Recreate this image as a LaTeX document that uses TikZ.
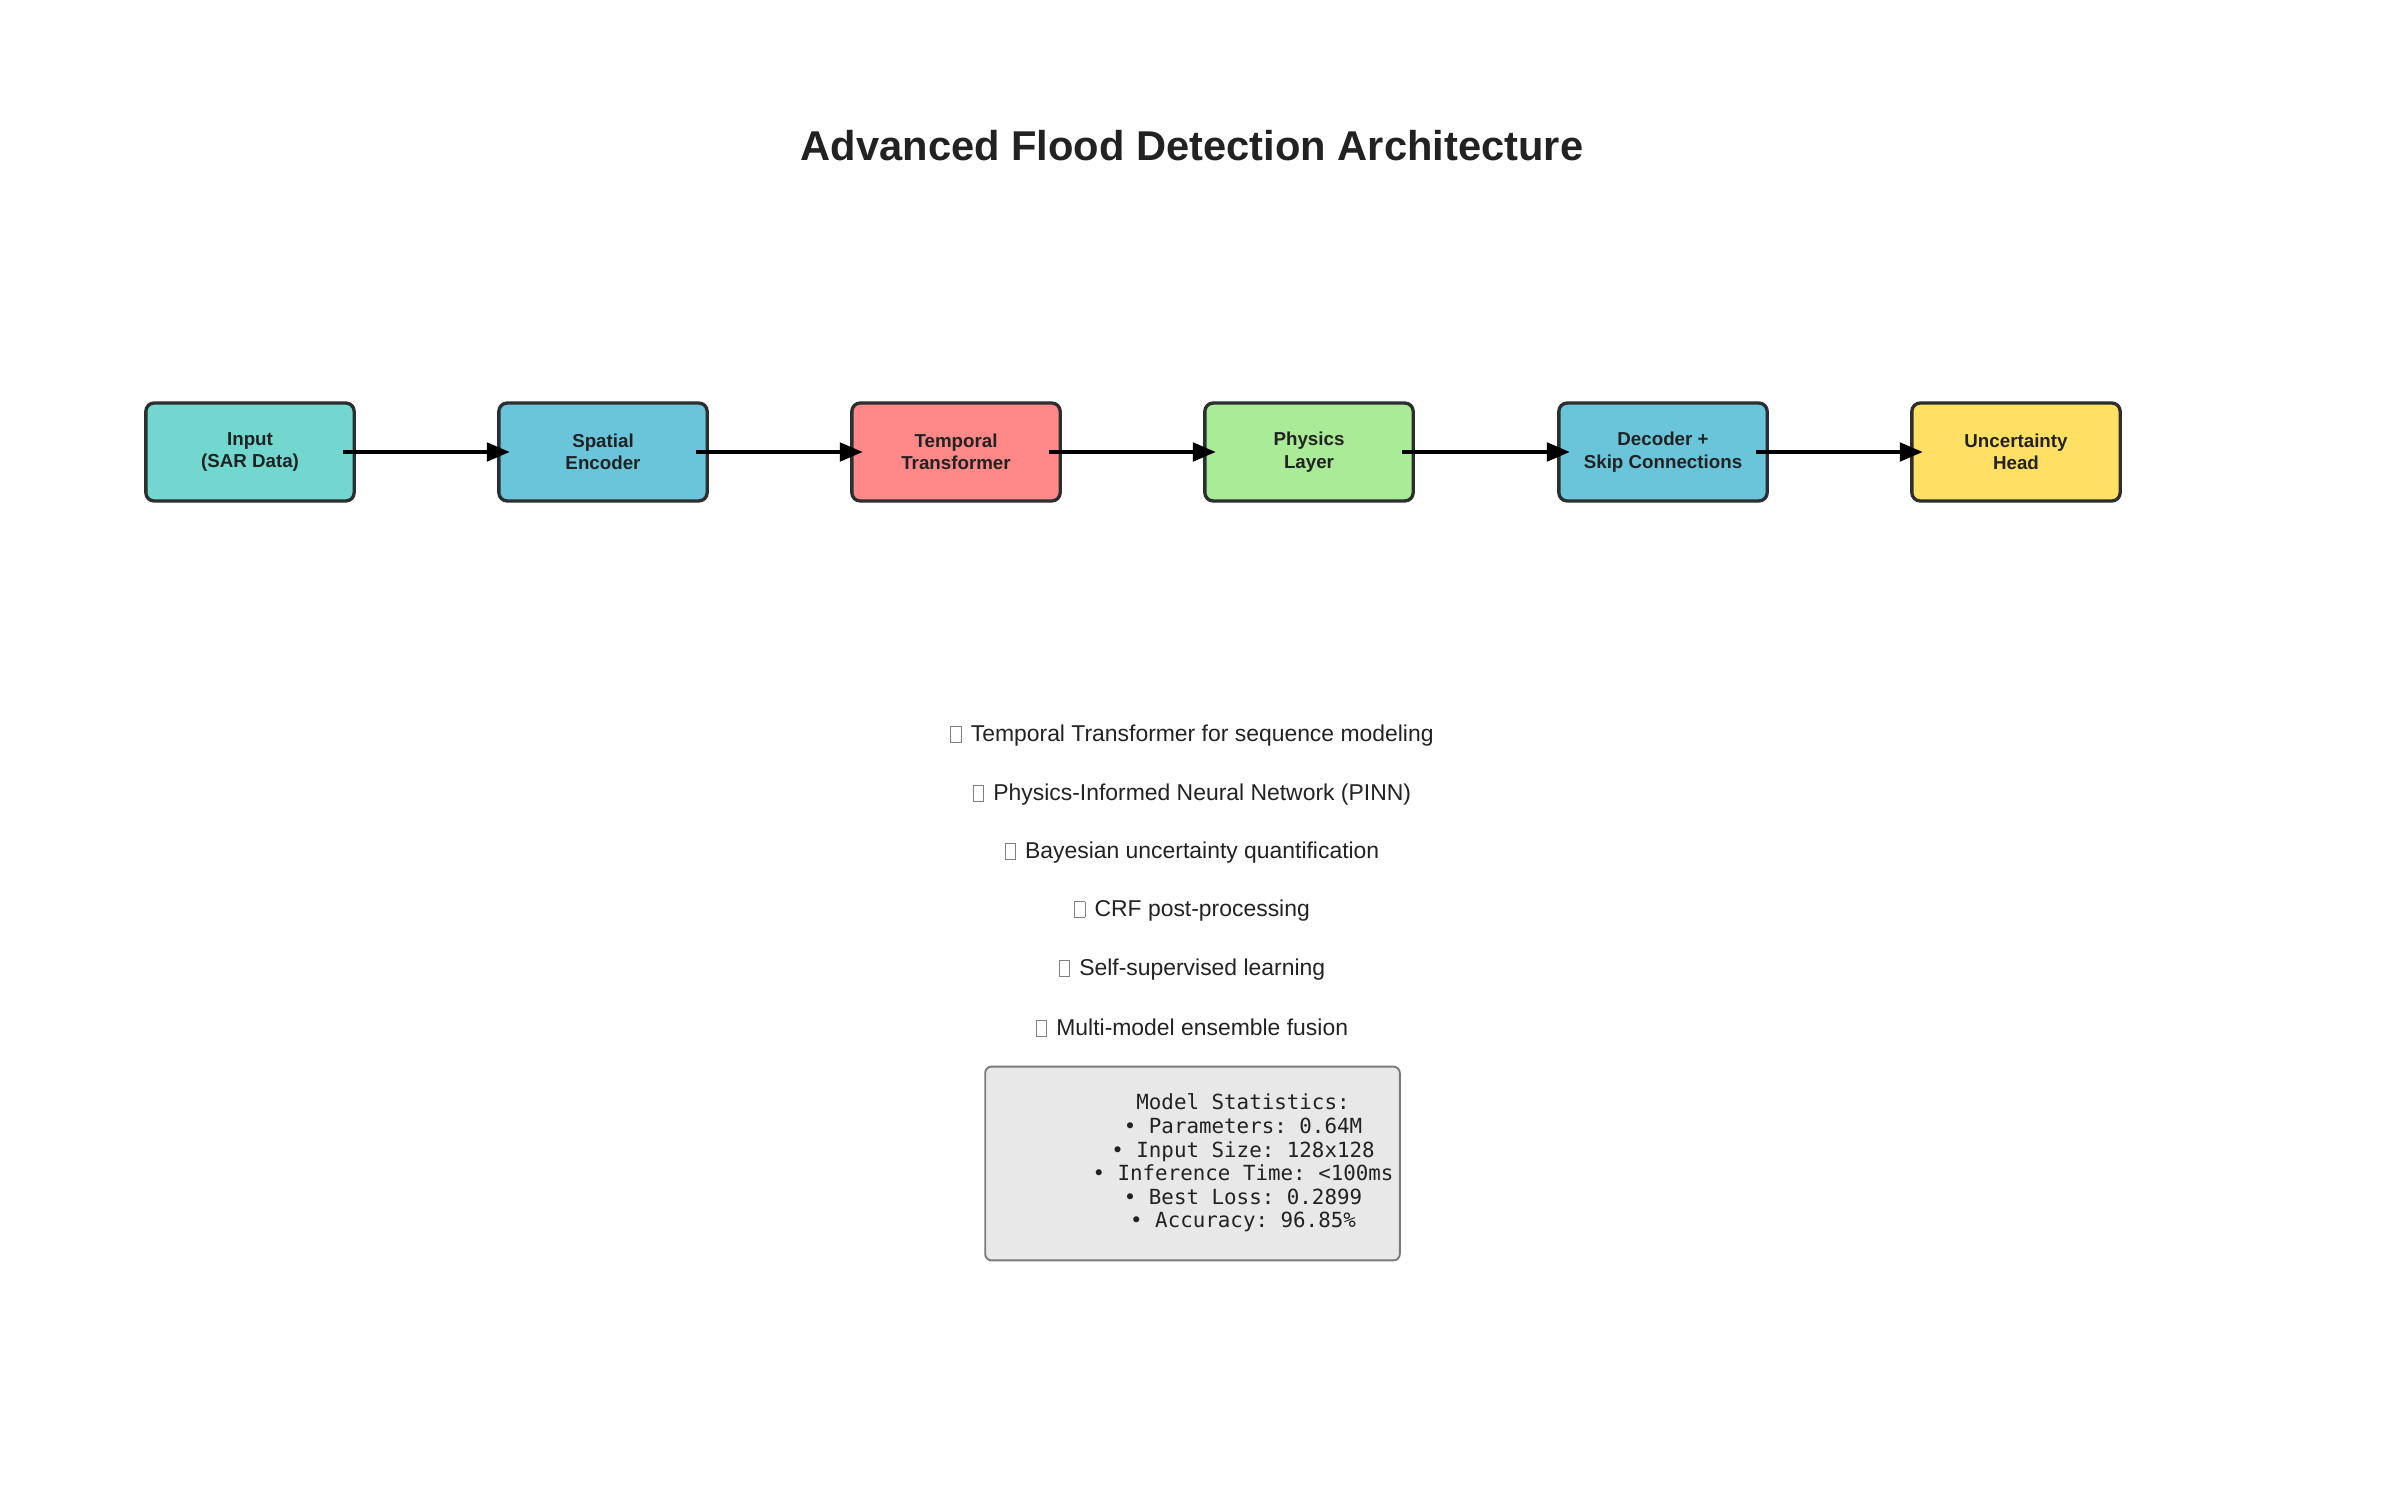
\documentclass[tikz,border=0pt]{standalone}
\usepackage{fontspec}
\setmainfont{Liberation Sans}
\setmonofont{DejaVu Sans Mono}
\usetikzlibrary{arrows.meta}

\definecolor{inkcol}{HTML}{222222}
\definecolor{edgecol}{HTML}{2B2F30}
\definecolor{inputcol}{HTML}{4ECDC4}
\definecolor{encodercol}{HTML}{45B7D1}
\definecolor{transcol}{HTML}{FF6B6B}
\definecolor{physcol}{HTML}{95E77E}
\definecolor{headcol}{HTML}{FFD93D}
\definecolor{statsfill}{HTML}{E8E8E8}
\definecolor{statsedge}{HTML}{7A7A7A}

% empty glyph box, as printed before each feature
\newcommand{\nochar}{{\color{gray}\setlength{\fboxsep}{0pt}\setlength{\fboxrule}{0.4pt}\fbox{\rule{0pt}{0.65em}\hspace{0.42em}}}\hspace{0.12em}}

\tikzset{
  block/.style={draw=edgecol, line width=1.6pt, rounded corners=4pt,
    fill opacity=0.8, text opacity=1, minimum width=100pt, minimum height=47pt,
    inner sep=0pt, align=center, text=inkcol,
    font=\bfseries\fontsize{9}{10.8}\selectfont},
  flow/.style={-{Triangle[length=11pt,width=9pt]}, line width=1.5pt,
    shorten <=-6pt, shorten >=-6pt},
  feature/.style={text=inkcol, font=\fontsize{11}{13}\selectfont},
}

\begin{document}
\begin{tikzpicture}[x=0.48pt,y=-0.48pt]
    \useasboundingbox[fill=white] (0,0) rectangle (2385,1485);

    % title
    \node[text=inkcol, font=\bfseries\fontsize{20}{24}\selectfont] (title) at (1192,146) {Advanced Flood Detection Architecture};

    % pipeline
    \node[block, fill=inputcol] (input) at (250,452) {Input\\(SAR Data)};
    \node[block, fill=encodercol] (spatial) at (603,452) {Spatial\\Encoder};
    \node[block, fill=transcol] (temporal) at (956,452) {Temporal\\Transformer};
    \node[block, fill=physcol] (physics) at (1309,452) {Physics\\Layer};
    \node[block, fill=encodercol] (decoder) at (1663,452) {Decoder +\\Skip Connections};
    \node[block, fill=headcol] (uncert) at (2016,452) {Uncertainty\\Head};

    \draw[flow] (input.east) -- (spatial.west);
    \draw[flow] (spatial.east) -- (temporal.west);
    \draw[flow] (temporal.east) -- (physics.west);
    \draw[flow] (physics.east) -- (decoder.west);
    \draw[flow] (decoder.east) -- (uncert.west);

    % features
    \node[feature] (feat1) at (1192,736) {\nochar\ Temporal Transformer for sequence modeling};
    \node[feature] (feat2) at (1192,795) {\nochar\ Physics-Informed Neural Network (PINN)};
    \node[feature] (feat3) at (1192,853) {\nochar\ Bayesian uncertainty quantification};
    \node[feature] (feat4) at (1192,911) {\nochar\ CRF post-processing};
    \node[feature] (feat5) at (1192,970) {\nochar\ Self-supervised learning};
    \node[feature] (feat6) at (1192,1028) {\nochar\ Multi-model ensemble fusion};

    % statistics
    \node[draw=statsedge, fill=statsfill, line width=0.9pt, rounded corners=3pt,
        minimum width=199pt, minimum height=93pt] (stats) at (1192.5,1163.5) {};
    \node[text=inkcol, align=center, font=\ttfamily\fontsize{10}{11.3}\selectfont] (statslines) at (1243,1163)
        {Model Statistics:\\• Parameters: 0.64M\\• Input Size: 128x128\\• Inference Time: <100ms\\• Best Loss: 0.2899\\• Accuracy: 96.85\%};
\end{tikzpicture}
\end{document}
